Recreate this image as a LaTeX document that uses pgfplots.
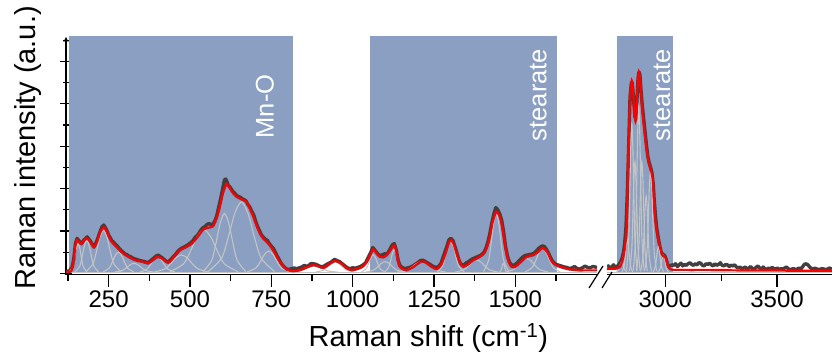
\documentclass[border=0pt]{standalone}
\usepackage{fontspec}
\setmainfont{Liberation Sans}
\usepackage{pgfplots}
\pgfplotsset{compat=1.18}
\definecolor{band}{RGB}{138,159,193}
\definecolor{datac}{RGB}{64,64,64}
\definecolor{comp}{RGB}{196,196,196}
\tikzset{lab/.style={rotate=90, text=white, inner sep=0pt, font=\fontsize{25.5}{27}\selectfont}}
\begin{document}
\begin{tikzpicture}
\useasboundingbox (0,0) rectangle (832pt,352pt);
\pgfplotsset{
  brk/.style={scale only axis, height=237.6pt, ymin=-0.06, ymax=11.15,
    axis x line=bottom, axis line style={-, line width=1.2pt, black},
    tick align=outside, major tick length=12.5pt, minor tick length=6pt,
    tick style={black, line width=1.2pt},
    tick label style={font=\fontsize{24}{26}\selectfont},
    /pgf/number format/assume math mode=true,
    /pgf/number format/1000 sep={}},
  dat/.style={datac, line width=3.4pt, line join=round},
  fit/.style={red, line width=2.2pt, smooth, tension=0.45},
  cmp/.style={comp, line width=1.1pt, smooth, tension=0.5}
}
% ---------------- left part ----------------
\begin{axis}[brk, at={(66pt,77.4pt)}, anchor=south west, width=531pt,
  xmin=119, xmax=1751, axis y line=left,
  xtick={250,500,750,1000,1250,1500}, minor xtick={125,375,625,875,1125,1375,1625},
  ytick={0,2,4,6,8,10}, minor ytick={1,3,5,7,9,11}, yticklabels={}]
\fill[band] (127,0.03) rectangle (817,11.2);
\fill[band] (1053,0.03) rectangle (1628,11.2);
\node[lab] at (730.5,7.87) {Mn-O};
\node[lab] at (1570.7,8.41) {stearate};
% data
\addplot[dat] coordinates {(119,0.08)(130,0.12)(138,0.3)(143,0.7)(148,1.4)(153,1.65)(158,1.55)(163,1.45)(168,1.42)(173,1.55)(178,1.62)(184,1.72)(189,1.62)(195,1.5)(200,1.35)(205,1.28)(210,1.4)(215,1.58)(220,1.8)(225,2.02)(230,2.2)(235,2.28)(240,2.15)(245,2.0)(250,1.8)(255,1.68)(260,1.52)(265,1.48)(270,1.38)(276,1.3)(282,1.18)(288,1.08)(294,1.0)(300,0.92)(306,0.88)(312,0.82)(318,0.78)(324,0.72)(330,0.68)(336,0.66)(342,0.62)(348,0.6)(354,0.57)(360,0.56)(366,0.52)(372,0.52)(378,0.58)(384,0.66)(390,0.74)(396,0.82)(402,0.86)(408,0.8)(414,0.74)(420,0.66)(426,0.58)(432,0.54)(438,0.6)(444,0.7)(450,0.8)(456,0.9)(462,1.02)(468,1.12)(474,1.18)(480,1.22)(486,1.28)(492,1.32)(498,1.4)(504,1.46)(510,1.56)(516,1.7)(522,1.78)(528,1.9)(534,2.05)(540,2.15)(546,2.2)(552,2.3)(558,2.35)(564,2.3)(570,2.32)(576,2.45)(582,2.7)(588,3.1)(594,3.5)(600,3.95)(606,4.4)(610,4.45)(614,4.3)(618,4.15)(624,4.05)(630,3.9)(636,3.8)(642,3.7)(648,3.62)(654,3.6)(660,3.52)(666,3.48)(672,3.42)(678,3.25)(684,3.12)(690,2.92)(696,2.75)(702,2.45)(708,2.2)(714,2.0)(720,1.8)(726,1.7)(732,1.6)(738,1.55)(744,1.4)(750,1.28)(756,1.18)(762,1.0)(768,0.82)(774,0.65)(780,0.48)(786,0.36)(792,0.26)(798,0.2)(805,0.18)(812,0.22)(820,0.25)(828,0.22)(836,0.26)(844,0.3)(852,0.38)(858,0.32)(864,0.36)(872,0.46)(880,0.45)(888,0.42)(896,0.36)(904,0.3)(912,0.34)(920,0.42)(928,0.48)(936,0.55)(944,0.66)(952,0.6)(960,0.55)(968,0.45)(976,0.35)(984,0.26)(992,0.22)(1000,0.26)(1008,0.24)(1016,0.28)(1024,0.32)(1032,0.4)(1040,0.5)(1048,0.75)(1056,1.0)(1062,1.22)(1068,1.1)(1074,0.98)(1080,0.88)(1086,0.84)(1092,0.88)(1098,0.92)(1104,0.9)(1110,1.0)(1116,1.18)(1122,1.35)(1128,1.4)(1134,1.1)(1140,0.6)(1146,0.35)(1152,0.28)(1160,0.22)(1168,0.25)(1176,0.28)(1184,0.34)(1192,0.42)(1200,0.5)(1208,0.6)(1216,0.62)(1224,0.55)(1232,0.48)(1240,0.4)(1248,0.32)(1256,0.28)(1264,0.32)(1272,0.48)(1280,0.85)(1288,1.2)(1296,1.58)(1302,1.65)(1308,1.55)(1314,1.28)(1320,0.98)(1326,0.65)(1332,0.45)(1338,0.38)(1344,0.42)(1350,0.5)(1356,0.55)(1362,0.62)(1368,0.68)(1374,0.72)(1380,0.76)(1386,0.8)(1392,0.84)(1398,0.9)(1404,1.0)(1410,1.2)(1416,1.5)(1422,1.9)(1428,2.4)(1434,2.8)(1440,3.1)(1446,3.0)(1452,2.8)(1458,2.5)(1464,1.95)(1470,1.25)(1476,0.8)(1482,0.52)(1488,0.4)(1494,0.38)(1500,0.42)(1506,0.5)(1512,0.6)(1518,0.7)(1524,0.78)(1530,0.84)(1536,0.86)(1542,0.88)(1548,0.9)(1554,0.92)(1560,0.98)(1566,1.08)(1572,1.18)(1578,1.25)(1584,1.3)(1590,1.25)(1596,1.12)(1602,0.95)(1608,0.75)(1614,0.58)(1620,0.48)(1626,0.42)(1634,0.38)(1642,0.34)(1650,0.3)(1658,0.28)(1666,0.22)(1674,0.26)(1682,0.32)(1690,0.22)(1698,0.2)(1706,0.26)(1714,0.34)(1722,0.28)(1730,0.26)(1738,0.32)(1746,0.3)(1751,0.26)};
% baseline of components
\addplot[comp, line width=1.1pt] coordinates {(119,0.05)(1751,0.05)};
% components
\addplot[cmp] coordinates {(129,0.065)(139.8,0.317)(145.2,0.707)(150.6,1.177)(156,1.40)(161.4,1.177)(166.8,0.707)(172.2,0.317)(183,0.065)};
\addplot[cmp] coordinates {(147,0.067)(161.4,0.347)(168.6,0.781)(175.8,1.303)(183,1.55)(190.2,1.303)(197.4,0.781)(204.6,0.347)(219,0.067)};
\addplot[cmp] coordinates {(180,0.072)(201.6,0.442)(212.4,1.014)(223.2,1.703)(234,2.03)(244.8,1.703)(255.6,1.014)(266.4,0.442)(288,0.072)};
\addplot[cmp] coordinates {(232,0.06)(251.2,0.238)(260.8,0.513)(270.4,0.843)(280,1.0)(289.6,0.843)(299.2,0.513)(308.8,0.238)(328,0.06)};
\addplot[cmp] coordinates {(268,0.055)(292,0.133)(304,0.255)(316,0.401)(328,0.47)(340,0.401)(352,0.255)(364,0.133)(388,0.055)};
\addplot[cmp] coordinates {(346,0.058)(367.6,0.193)(378.4,0.401)(389.2,0.651)(400,0.77)(410.8,0.651)(421.6,0.401)(432.4,0.193)(454,0.058)};
\addplot[cmp] coordinates {(390,0.059)(423.6,0.212)(440.4,0.449)(457.2,0.735)(474,0.87)(490.8,0.735)(507.6,0.449)(524.4,0.212)(558,0.059)};
\addplot[cmp] coordinates {(438,0.072)(480,0.446)(501,1.024)(522,1.72)(543,2.05)(564,1.72)(585,1.024)(606,0.446)(648,0.072)};
\addplot[cmp] coordinates {(540,0.08)(566.4,0.598)(579.6,1.399)(592.8,2.363)(606,2.82)(619.2,2.363)(632.4,1.399)(645.6,0.598)(672,0.08)};
\addplot[cmp] coordinates {(556,0.087)(596.8,0.707)(617.2,1.667)(637.6,2.822)(658,3.37)(678.4,2.822)(698.8,1.667)(719.2,0.707)(760,0.087)};
\addplot[cmp] coordinates {(676,0.061)(702.4,0.248)(715.6,0.537)(728.8,0.885)(742,1.05)(755.2,0.885)(768.4,0.537)(781.6,0.248)(808,0.061)};
\addplot[cmp] coordinates {(805,0.053)(835,0.109)(850,0.196)(865,0.30)(880,0.35)(895,0.30)(910,0.196)(925,0.109)(955,0.053)};
\addplot[cmp] coordinates {(886,0.056)(910,0.149)(922,0.294)(934,0.468)(946,0.55)(958,0.468)(970,0.294)(982,0.149)(1006,0.056)};
\addplot[cmp] coordinates {(1027,0.059)(1041.4,0.212)(1048.6,0.449)(1055.8,0.735)(1063,0.87)(1070.2,0.735)(1077.4,0.449)(1084.6,0.212)(1099,0.059)};
\addplot[cmp] coordinates {(1040,0.056)(1064,0.149)(1076,0.294)(1088,0.468)(1100,0.55)(1112,0.468)(1124,0.294)(1136,0.149)(1160,0.056)};
\addplot[cmp] coordinates {(1098,0.062)(1110,0.258)(1116,0.561)(1122,0.927)(1128,1.10)(1134,0.927)(1140,0.561)(1146,0.258)(1158,0.062)};
\addplot[cmp] coordinates {(1137,0.056)(1167,0.149)(1182,0.294)(1197,0.468)(1212,0.55)(1227,0.468)(1242,0.294)(1257,0.149)(1287,0.056)};
\addplot[cmp] coordinates {(1259,0.066)(1275.8,0.337)(1284.2,0.756)(1292.6,1.261)(1301,1.50)(1309.4,1.261)(1317.8,0.756)(1326.2,0.337)(1343,0.066)};
\addplot[cmp] coordinates {(1315,0.056)(1341.4,0.165)(1354.6,0.332)(1367.8,0.534)(1381,0.63)(1394.2,0.534)(1407.4,0.332)(1420.6,0.165)(1447,0.056)};
\addplot[cmp] coordinates {(1402,0.081)(1417.6,0.600)(1425.4,1.404)(1433.2,2.371)(1441,2.83)(1448.8,2.371)(1456.6,1.404)(1464.4,0.600)(1480,0.081)};
\addplot[cmp] coordinates {(1451,0.055)(1455.8,0.133)(1458.2,0.255)(1460.6,0.401)(1463,0.47)(1465.4,0.401)(1467.8,0.255)(1470.2,0.133)(1475,0.055)};
\addplot[cmp] coordinates {(1469,0.057)(1495.4,0.179)(1508.6,0.367)(1521.8,0.593)(1535,0.70)(1548.2,0.593)(1561.4,0.367)(1574.6,0.179)(1601,0.057)};
\addplot[cmp] coordinates {(1530,0.062)(1551.6,0.272)(1562.4,0.595)(1573.2,0.985)(1584,1.17)(1594.8,0.985)(1605.6,0.595)(1616.4,0.272)(1638,0.062)};
% fit
\addplot[fit] coordinates {(119,0.05)(135,0.1)(143,0.6)(148,1.3)(153,1.56)(160,1.45)(167,1.37)(175,1.55)(184,1.64)(195,1.45)(205,1.21)(215,1.5)(225,1.95)(235.5,2.16)(245,1.95)(255,1.6)(264,1.4)(280,1.15)(295,0.93)(310,0.78)(326,0.65)(340,0.58)(356,0.53)(371,0.46)(385,0.6)(402,0.77)(418,0.65)(433,0.49)(450,0.75)(469,1.08)(487,1.22)(505,1.39)(523,1.7)(541,2.06)(556,2.15)(571,2.22)(582,2.6)(592,3.13)(602,3.8)(613,4.2)(623,4.0)(633,3.76)(644,3.6)(654,3.52)(664,3.45)(674,3.37)(684,3.05)(695,2.66)(705,2.25)(715,1.87)(726,1.62)(736,1.48)(746,1.3)(756,1.08)(766,0.8)(777,0.53)(787,0.32)(797,0.17)(817,0.1)(840,0.15)(860,0.28)(879,0.38)(895,0.32)(910,0.25)(928,0.42)(946,0.58)(965,0.45)(980,0.25)(997,0.14)(1015,0.2)(1033,0.33)(1050,0.7)(1063,1.12)(1075,0.9)(1084,0.77)(1094,0.75)(1105,0.85)(1117,1.1)(1128,1.3)(1136,0.9)(1143,0.35)(1155,0.18)(1166,0.14)(1186,0.29)(1200,0.45)(1212,0.55)(1225,0.5)(1240,0.33)(1258,0.19)(1272,0.4)(1285,0.9)(1295,1.4)(1302,1.56)(1310,1.4)(1320,0.9)(1330,0.5)(1340,0.3)(1355,0.42)(1370,0.6)(1381,0.69)(1395,0.82)(1407,1.0)(1420,1.6)(1430,2.4)(1441,2.89)(1450,2.75)(1458,2.34)(1466,1.6)(1474,0.85)(1482,0.45)(1489,0.3)(1500,0.3)(1515,0.5)(1535,0.77)(1555,0.85)(1570,1.0)(1584,1.19)(1598,1.0)(1612,0.55)(1625,0.38)(1637,0.3)(1660,0.2)(1689,0.14)(1720,0.14)(1751,0.14)};
\end{axis}
% ---------------- right part ----------------
\begin{axis}[brk, at={(607pt,77.4pt)}, anchor=south west, width=225pt,
  xmin=2739, xmax=3746, axis y line=none,
  xtick={3000,3500}, minor xtick={3250}]
\fill[band] (2785,0.03) rectangle (3033,11.2);
\node[lab] at (2985,8.41) {stearate};
\addplot[dat] coordinates {(2739,0.3)(2745,0.35)(2752,0.25)(2760,0.3)(2768,0.4)(2776,0.3)(2784,0.32)(2792,0.42)(2800,0.55)(2806,0.7)(2812,0.95)(2818,1.4)(2824,2.2)(2830,3.8)(2836,6.0)(2842,8.3)(2848,9.0)(2852,9.0)(2858,8.2)(2864,7.4)(2868,7.3)(2872,8.0)(2878,9.2)(2882,9.5)(2886,9.4)(2892,8.5)(2898,7.8)(2904,7.2)(2910,6.6)(2916,6.0)(2922,5.5)(2928,5.2)(2934,5.0)(2940,4.75)(2946,4.2)(2950,3.5)(2956,2.7)(2962,2.1)(2968,1.7)(2974,1.35)(2980,1.05)(2986,0.92)(2992,0.88)(2998,0.82)(3004,0.65)(3010,0.42)(3016,0.35)(3022,0.35)(3030,0.4)(3038,0.38)(3046,0.45)(3054,0.32)(3062,0.4)(3070,0.48)(3078,0.35)(3086,0.42)(3094,0.38)(3102,0.45)(3110,0.5)(3118,0.42)(3126,0.38)(3134,0.45)(3142,0.4)(3150,0.5)(3158,0.48)(3166,0.38)(3174,0.35)(3182,0.45)(3190,0.42)(3198,0.48)(3206,0.4)(3214,0.35)(3222,0.45)(3230,0.38)(3238,0.42)(3246,0.5)(3254,0.38)(3262,0.35)(3270,0.42)(3278,0.4)(3286,0.32)(3294,0.38)(3302,0.35)(3310,0.4)(3318,0.3)(3326,0.25)(3334,0.3)(3342,0.22)(3350,0.25)(3358,0.3)(3366,0.2)(3374,0.25)(3382,0.32)(3390,0.22)(3398,0.2)(3406,0.28)(3414,0.35)(3422,0.25)(3430,0.2)(3438,0.3)(3446,0.22)(3454,0.18)(3462,0.25)(3470,0.2)(3478,0.28)(3486,0.22)(3494,0.2)(3502,0.25)(3510,0.18)(3518,0.22)(3526,0.2)(3534,0.25)(3542,0.3)(3550,0.22)(3558,0.18)(3566,0.2)(3574,0.22)(3582,0.18)(3590,0.2)(3598,0.25)(3606,0.2)(3614,0.3)(3622,0.42)(3630,0.45)(3638,0.4)(3646,0.3)(3654,0.22)(3662,0.2)(3670,0.25)(3678,0.2)(3686,0.18)(3694,0.2)(3702,0.22)(3710,0.2)(3718,0.18)(3726,0.2)(3734,0.25)(3746,0.2)};
\addplot[comp, line width=1.1pt] coordinates {(2739,0.05)(3746,0.05)};
\addplot[cmp] coordinates {(2781,0.056)(2790.6,0.149)(2795.4,0.294)(2800.2,0.468)(2805,0.55)(2809.8,0.468)(2814.6,0.294)(2819.4,0.149)(2829,0.056)};
\addplot[cmp] coordinates {(2806,0.067)(2815.6,0.347)(2820.4,0.781)(2825.2,1.303)(2830,1.55)(2834.8,1.303)(2839.6,0.781)(2844.4,0.347)(2854,0.067)};
\addplot[cmp] coordinates {(2826,0.127)(2835.6,1.436)(2840.4,3.459)(2845.2,5.895)(2850,7.05)(2854.8,5.895)(2859.6,3.459)(2864.4,1.436)(2874,0.127)};
\addplot[cmp] coordinates {(2840,0.107)(2849.6,1.08)(2854.4,2.582)(2859.2,4.392)(2864,5.25)(2868.8,4.392)(2873.6,2.582)(2878.4,1.08)(2888,0.107)};
\addplot[cmp] coordinates {(2857,0.136)(2866.6,1.594)(2871.4,3.849)(2876.2,6.563)(2881,7.85)(2885.8,6.563)(2890.6,3.849)(2895.4,1.594)(2905,0.136)};
\addplot[cmp] coordinates {(2871,0.107)(2880.6,1.08)(2885.4,2.582)(2890.2,4.392)(2895,5.25)(2899.8,4.392)(2904.6,2.582)(2909.4,1.08)(2919,0.107)};
\addplot[cmp] coordinates {(2890,0.09)(2899.6,0.763)(2904.4,1.803)(2909.2,3.056)(2914,3.65)(2918.8,3.056)(2923.6,1.803)(2928.4,0.763)(2938,0.09)};
\addplot[cmp] coordinates {(2907,0.103)(2917.8,1.0)(2923.2,2.388)(2928.6,4.058)(2934,4.85)(2939.4,4.058)(2944.8,2.388)(2950.2,1.0)(2961,0.103)};
\addplot[cmp] coordinates {(2945,0.063)(2954.6,0.288)(2959.4,0.634)(2964.2,1.052)(2969,1.25)(2973.8,1.052)(2978.6,0.634)(2983.4,0.288)(2993,0.063)};
\addplot[cmp] coordinates {(2967,0.059)(2976.6,0.208)(2981.4,0.44)(2986.2,0.718)(2991,0.85)(2995.8,0.718)(3000.6,0.44)(3005.4,0.208)(3015,0.059)};
\addplot[fit] coordinates {(2739,0.2)(2760,0.22)(2780,0.22)(2797,0.3)(2805,0.5)(2812,0.77)(2820,1.3)(2827,2.18)(2834,5.33)(2842,8.16)(2850,9.1)(2856,8.6)(2862,7.5)(2868,7.2)(2875,8.6)(2882,9.5)(2888,9.0)(2895,8.0)(2901,7.3)(2909,6.5)(2917,5.8)(2925,5.3)(2931,5.0)(2937,4.8)(2944,4.39)(2950,3.4)(2954,2.66)(2962,2.0)(2969,1.56)(2977,1.2)(2984,0.93)(2992,0.8)(2999,0.77)(3006,0.55)(3013,0.3)(3021,0.2)(3040,0.16)(3100,0.15)(3200,0.15)(3300,0.14)(3400,0.13)(3500,0.13)(3600,0.12)(3746,0.12)};
\end{axis}
% axis break marks
\draw[line width=1.2pt] (589pt,64pt) -- (603pt,86pt);
\draw[line width=1.2pt] (602pt,64pt) -- (612pt,80pt);
% axis titles
\node[anchor=base, inner sep=0pt, font=\fontsize{29}{31}\selectfont] at (428.3pt,5pt) {Raman shift (cm\textsuperscript{-1})};
\node[anchor=base west, rotate=90, inner sep=0pt, font=\fontsize{29}{31}\selectfont] at (35pt,62pt) {Raman intensity (a.u.)};
\end{tikzpicture}
\end{document}
